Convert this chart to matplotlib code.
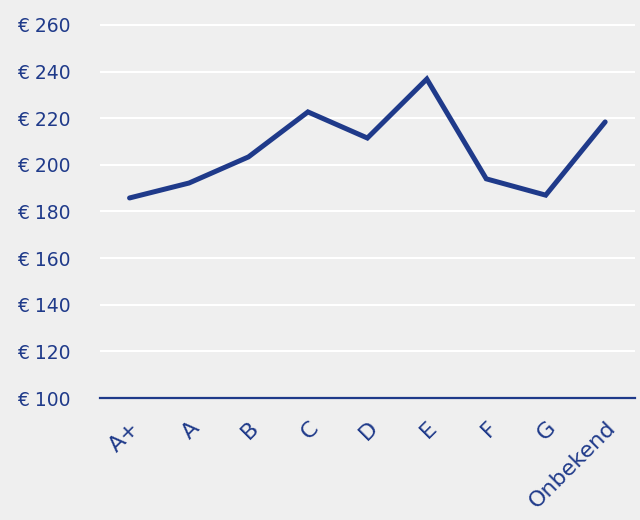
import matplotlib
matplotlib.use("Agg")
import matplotlib.pyplot as plt
import numpy as np

# categories and values
labels = ["A+", "A", "B", "C", "D", "E", "F", "G", "Onbekend"]
values = [185.8, 192.2, 203.4, 222.7, 211.5, 236.8, 194.0, 187.0, 218.4]
yticks = [100, 120, 140, 160, 180, 200, 220, 240, 260]

blue = "#1f3a8a"
bg = "#efefef"

plt.rcParams['font.family'] = ['DejaVu Sans']

fig = plt.figure(figsize=(6.4, 5.2), dpi=100, facecolor=bg)
ax = fig.add_axes([0.156, 0.2346, 0.836, 0.7654], facecolor=bg)

x = np.arange(len(labels))
ax.plot(x, values, color=blue, lw=3.6, solid_joinstyle="miter", solid_capstyle="round", zorder=3)

ax.set_xlim(-0.5, len(labels) - 0.5)
ax.set_ylim(100, 270.7)
ax.set_yticks(yticks)
ax.set_yticklabels(["€ %d" % v for v in yticks], fontsize=13.5)
ax.set_xticks(x)
ax.set_xticklabels(labels, rotation=45, ha="right", rotation_mode="anchor", fontsize=16)

ax.grid(axis="y", color="white", lw=1.5, zorder=0)
ax.tick_params(length=0, colors=blue)
ax.tick_params(axis="y", pad=21)
ax.tick_params(axis="x", pad=14)

for s in ["top", "right", "left"]:
    ax.spines[s].set_visible(False)
ax.spines["bottom"].set_color(blue)
ax.spines["bottom"].set_linewidth(1.6)

fig.savefig("out.png", dpi=100, facecolor=bg)
